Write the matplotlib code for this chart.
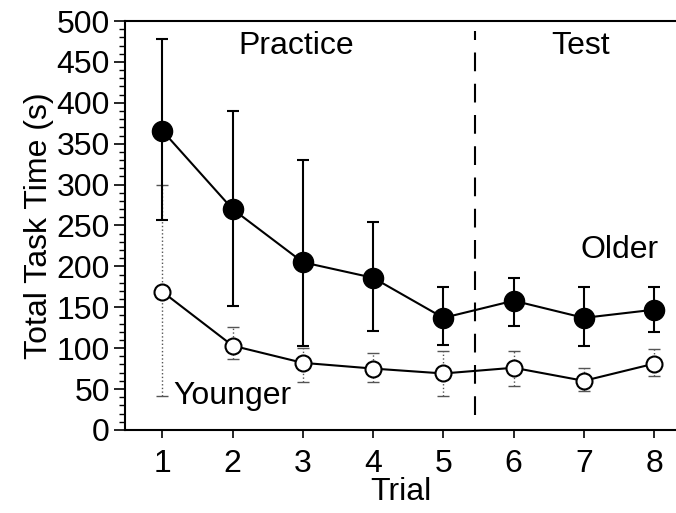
import matplotlib
matplotlib.use('Agg')
import matplotlib.pyplot as plt
from matplotlib.ticker import MultipleLocator
import numpy as np

trials = [1, 2, 3, 4, 5, 6, 7, 8]
older = [366, 270, 205, 186, 137, 158, 137, 147]
older_lo = [257, 151, 102, 121, 104, 127, 102, 120]
older_hi = [478, 390, 330, 254, 175, 186, 175, 175]
younger = [169, 103, 82, 75, 69, 76, 60, 81]
younger_lo = [42, 87, 59, 58, 42, 54, 48, 66]
younger_hi = [299, 126, 100, 94, 96, 96, 76, 99]

plt.rcParams['font.family'] = ['Liberation Sans', 'DejaVu Sans']
fs = 23

fig = plt.figure(figsize=(6.76, 5.13), dpi=100)
ax = fig.add_axes([0.185, 0.162, 0.815, 0.797])

o = np.array(older)
y = np.array(younger)
eb = ax.errorbar(trials, younger, yerr=[y - np.array(younger_lo), np.array(younger_hi) - y],
                 fmt='none', ecolor='#555555', elinewidth=1, capsize=4, capthick=1,
                 zorder=2)
for coll in eb.lines[2]:
    coll.set_linestyle(':')
ax.errorbar(trials, older, yerr=[o - np.array(older_lo), np.array(older_hi) - o],
            fmt='none', ecolor='black', elinewidth=1.5, capsize=4.5, capthick=1.5, zorder=2)

ax.plot(trials, younger, '-o', color='black', lw=1.5, ms=11.5, mfc='white',
        mec='black', mew=1.5, zorder=3)
ax.plot(trials, older, '-o', color='black', lw=1.5, ms=14.5, mfc='black',
        mec='black', zorder=3)

ax.plot([5.45, 5.45], [18, 488], color='black', lw=1.5, ls=(0, (9, 6)), zorder=1)

ax.text(2.9, 470, 'Practice', fontsize=fs, ha='center', va='center')
ax.text(6.95, 470, 'Test', fontsize=fs, ha='center', va='center')
ax.text(7.5, 220, 'Older', fontsize=fs, ha='center', va='center')
ax.text(2.0, 42, 'Younger', fontsize=fs, ha='center', va='center')

ax.set_xlim(0.47, 8.31)
ax.set_ylim(0, 500)
ax.set_xticks(trials)
ax.yaxis.set_major_locator(MultipleLocator(50))
ax.yaxis.set_minor_locator(MultipleLocator(10))
ax.tick_params(axis='both', labelsize=fs, direction='out', width=1.2)
ax.tick_params(axis='y', which='major', length=8, pad=3)
ax.tick_params(axis='y', which='minor', length=4, width=1)
ax.tick_params(axis='x', length=6, pad=8)
ax.spines['right'].set_visible(False)
for s in ['left', 'bottom', 'top']:
    ax.spines[s].set_linewidth(1.5)

ax.set_xlabel('Trial', fontsize=fs, labelpad=-2)
ax.set_ylabel('Total Task Time (s)', fontsize=fs, labelpad=2)

fig.savefig('out.png', dpi=100)
